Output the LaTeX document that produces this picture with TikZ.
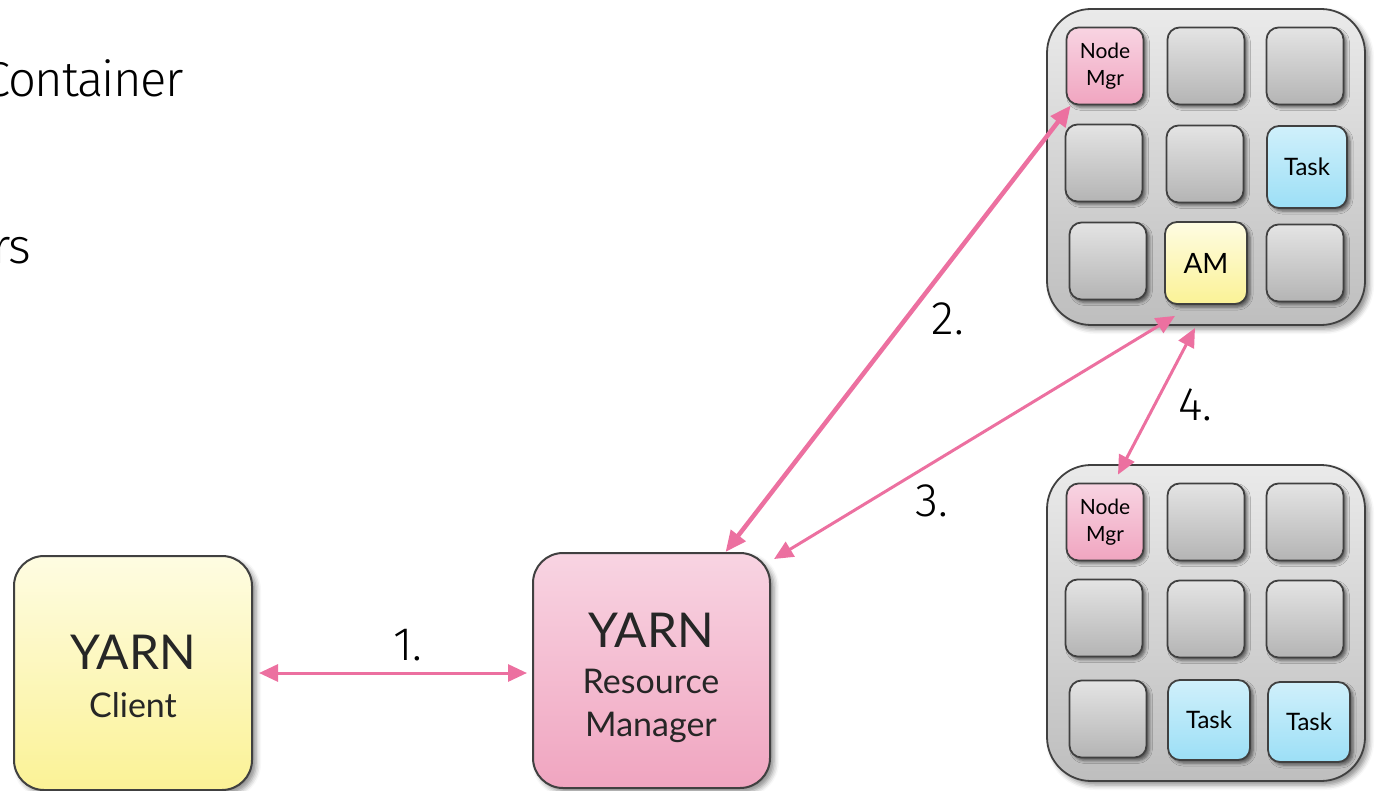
\documentclass[tikz,border=0pt]{standalone}
\usepackage{fontspec}
\setmainfont{Lato}
\newfontfamily\thinfont{Fira Sans Light}
\newfontfamily\tightfont[LetterSpace=-3]{Fira Sans Light}
\usetikzlibrary{arrows.meta,shadows.blur,calc}

\definecolor{edge}{HTML}{404040}
\definecolor{link}{RGB}{236,112,160}
\definecolor{clientT}{HTML}{FEFCE2}
\definecolor{clientB}{HTML}{FBF296}
\definecolor{rmT}{HTML}{F8D4E2}
\definecolor{rmB}{HTML}{F0A5C0}
\definecolor{rackT}{HTML}{EAEAEA}
\definecolor{rackB}{HTML}{BEBEBE}
\definecolor{cellT}{HTML}{E4E4E4}
\definecolor{cellB}{HTML}{B4B4B4}
\definecolor{taskT}{HTML}{D0F0FB}
\definecolor{taskB}{HTML}{9CDFF6}

\tikzset{
  softshadow/.style={blur shadow={shadow xshift=4pt, shadow yshift=-4pt,
      shadow blur radius=5pt, shadow opacity=45}},
  bigbox/.style={draw=edge, line width=2pt, rounded corners=30pt, inner sep=0pt,
      softshadow},
  clientbox/.style={bigbox, top color=clientT, bottom color=clientB,
      minimum width=238pt, minimum height=234pt},
  rmbox/.style={bigbox, top color=rmT, bottom color=rmB,
      minimum width=237pt, minimum height=235pt},
  rack/.style={draw=edge, line width=1.8pt, rounded corners=44pt, inner sep=0pt,
      top color=rackT, bottom color=rackB, minimum width=318pt, minimum height=316pt,
      softshadow},
  cell/.style={draw=edge, line width=1.8pt, rounded corners=12pt, inner sep=0pt,
      minimum width=77pt, minimum height=77pt, align=center,
      top color=cellT, bottom color=cellB,
      font=\fontsize{21}{27}\selectfont,
      blur shadow={shadow xshift=3pt, shadow yshift=-3pt,
      shadow blur radius=3pt, shadow opacity=55}},
  nmcell/.style={cell, top color=rmT, bottom color=rmB},
  taskcell/.style={cell, top color=taskT, bottom color=taskB,
      font=\fontsize{24}{27}\selectfont},
  amcell/.style={cell, top color=clientT, bottom color=clientB,
      font=\fontsize{28}{30}\selectfont},
  boxtitle/.style={anchor=base, text=black!85, font=\fontsize{48}{50}\selectfont},
  boxsub/.style={anchor=base, text=black!85, font=\fontsize{34}{38}\selectfont},
  steplabel/.style={anchor=base west, font=\thinfont\fontsize{47}{50}\selectfont},
  slidetext/.style={anchor=base east, inner sep=0pt,
      font=\tightfont\fontsize{49}{55}\selectfont},
  link/.style={draw=link, line width=3pt,
      {Triangle[length=19pt,width=17pt]}-{Triangle[length=19pt,width=17pt]}},
  boldlink/.style={link, line width=4.5pt,
      {Triangle[length=21pt,width=18pt]}-{Triangle[length=21pt,width=18pt]}},
}

\begin{document}
\begin{tikzpicture}[x=1pt,y=-1pt]
\useasboundingbox (0,0) rectangle (1378,791);

% text running in from the left
\node[slidetext] (t1) at (184,97) {Container};
\node[slidetext] (t2) at (31,264) {rs};

% client and resource manager
\node[clientbox] (client) at (133,673) {};
\node[boxtitle] (cy) at (133,669) {YARN};
\node[boxsub]   (cc) at (133,717) {Client};

\node[rmbox] (rm) at (651.5,670.5) {};
\node[boxtitle] (ry) at (651,647) {YARN};
\node[boxsub]   (rr) at (651,693) {Resource};
\node[boxsub]   (rmg) at (651,736) {Manager};

% upper machine
\node[rack] (rackA) at (1206,167) {};
\node[nmcell]   (nm1) at (1105,66)  {Node\\Mgr};
\node[cell]     (a12) at (1206,66)  {};
\node[cell]     (a13) at (1305,66)  {};
\node[cell]     (a21) at (1104,163) {};
\node[cell]     (a22) at (1205,164) {};
\node[taskcell, minimum width=80pt, minimum height=82pt] (ta1) at (1307,167) {Task};
\node[cell]     (a31) at (1108,261) {};
\node[amcell, minimum width=82pt, minimum height=82pt] (am) at (1206,263) {AM};
\node[cell]     (a33) at (1305,263) {};

% lower machine
\node[rack] (rackB) at (1206,623) {};
\node[nmcell]   (nm2) at (1105,522) {Node\\Mgr};
\node[cell]     (b12) at (1206,522) {};
\node[cell]     (b13) at (1305,522) {};
\node[cell]     (b21) at (1104,618) {};
\node[cell]     (b22) at (1206,619) {};
\node[cell]     (b23) at (1305,619) {};
\node[cell]     (b31) at (1108,719) {};
\node[taskcell, minimum width=82pt, minimum height=80pt] (tb2) at (1209,720) {Task};
\node[taskcell, minimum width=82pt, minimum height=80pt] (tb3) at (1309,722) {Task};

% messages
\draw[link] ($(client.east)+(6,0)$) -- ($(client.east -| rm.west)+(-5,0)$);
\draw[boldlink] (rm.58) -- (nm1.229);
\draw[link] ($(rm.north east)+(3,7)$) -- ($(am.south)+(-31,11)$);
\draw[link] ($(am.south)+(-11,23)$) -- ($(nm2.north)+(13,-8)$);

\node[steplabel] (l1) at (390,660) {1.};
\node[steplabel] (l2) at (928,335) {2.};
\node[steplabel] (l3) at (912,516) {3.};
\node[steplabel] (l4) at (1175,420) {4.};
\end{tikzpicture}
\end{document}
